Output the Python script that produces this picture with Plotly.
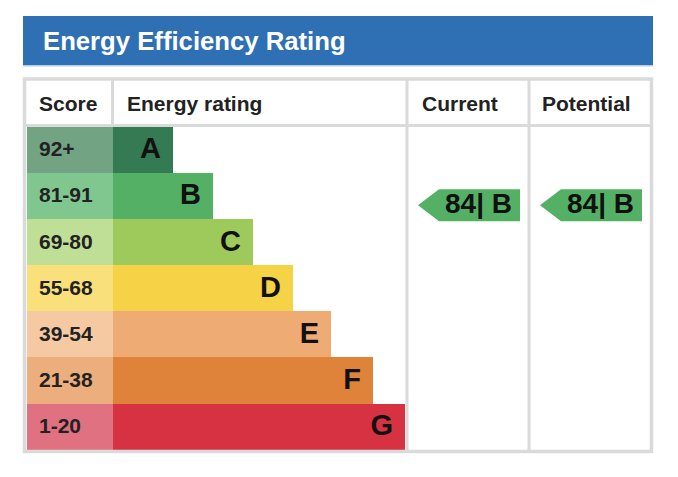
import plotly.graph_objects as go

# ---------------- data ----------------
title = "Energy Efficiency Rating"
headers = ["Score", "Energy rating", "Current", "Potential"]
bands = ["A", "B", "C", "D", "E", "F", "G"]
score_ranges = ["92+", "81-91", "69-80", "55-68", "39-54", "21-38", "1-20"]
bar_lengths = [60, 100, 140, 180, 218, 260, 292]
score_colors = ["#72a382", "#80c78f", "#bfdf97", "#f9e07a", "#f5c9a2", "#ebae7c", "#e07180"]
bar_colors = ["#347b54", "#53b065", "#9dca5b", "#f6d246", "#eeab73", "#df833b", "#d63242"]
current_score = 84
current_band = "B"
potential_score = 84
potential_band = "B"

# ---------------- layout constants ----------------
W, H = 678, 477
LEFT, RIGHT = 23, 653
TITLE_TOP, TITLE_BOT = 16, 65
TABLE_TOP, HEAD_BOT = 79, 126
ROW_TOP, ROW_BOT = 127, 450
ROW_H = (ROW_BOT - ROW_TOP) / len(bands)
SCORE_X0, BAR_X0 = 27, 113
COL_CUR, COL_POT, COL_END = 407, 529, 651
GRID = "#dadada"
FONT = "Liberation Sans, Arial, sans-serif"

centers = [ROW_TOP + ROW_H * (i + 0.5) for i in range(len(bands))]

fig = go.Figure()

# score cells
fig.add_trace(go.Bar(
    orientation="h", y=centers, x=[BAR_X0 - SCORE_X0] * len(bands), base=SCORE_X0,
    width=ROW_H + 0.6, marker=dict(color=score_colors, line=dict(width=0)),
    hoverinfo="skip", showlegend=False))
# rating bars
fig.add_trace(go.Bar(
    orientation="h", y=centers, x=bar_lengths, base=BAR_X0,
    width=ROW_H + 0.6, marker=dict(color=bar_colors, line=dict(width=0)),
    hoverinfo="skip", showlegend=False))

# score labels
fig.add_trace(go.Scatter(
    x=[39] * len(bands), y=[c + 1 for c in centers], mode="text",
    text=[f"<b>{s}</b>" for s in score_ranges],
    textposition="middle right", textfont=dict(family=FONT, size=21, color="#222222"),
    hoverinfo="skip", showlegend=False))
# band letters
fig.add_trace(go.Scatter(
    x=[BAR_X0 + l - 12 for l in bar_lengths], y=[c + 1 for c in centers], mode="text",
    text=[f"<b>{b}</b>" for b in bands], textposition="middle left",
    textfont=dict(family=FONT, size=29, color="#111111"),
    hoverinfo="skip", showlegend=False))


def arrow(score, band, col_x0, col_x1):
    i = bands.index(band)
    cy = centers[i] + 9
    h = 32
    x_right = col_x1 - 9
    x_rect = col_x0 + 32
    x_tip = col_x0 + 11
    xs = [x_tip, x_rect, x_right, x_right, x_rect, x_tip]
    ys = [cy, cy - h / 2, cy - h / 2, cy + h / 2, cy + h / 2, cy]
    fig.add_trace(go.Scatter(
        x=xs, y=ys, fill="toself", fillcolor=bar_colors[i], mode="lines",
        line=dict(width=0, color=bar_colors[i]), hoverinfo="skip", showlegend=False))
    fig.add_trace(go.Scatter(
        x=[x_right - 8], y=[cy + 1], mode="text",
        text=[f"<b>{score}| {band}</b>"], textposition="middle left",
        textfont=dict(family=FONT, size=28, color="#111111"),
        hoverinfo="skip", showlegend=False))


arrow(current_score, current_band, COL_CUR, COL_POT)
arrow(potential_score, potential_band, COL_POT, COL_END)

shapes = [
    # title bar
    dict(type="rect", x0=LEFT, x1=RIGHT, y0=TITLE_TOP, y1=TITLE_BOT,
         fillcolor="#2f70b5", line=dict(width=0), layer="below"),
    dict(type="rect", x0=LEFT, x1=RIGHT, y0=TITLE_BOT, y1=TITLE_BOT + 1.5,
         fillcolor="#b5cbe6", line=dict(width=0), layer="below"),
    # outer border
    dict(type="rect", x0=LEFT + 1.5, x1=RIGHT - 1.5, y0=TABLE_TOP, y1=ROW_BOT + 1.5,
         line=dict(color=GRID, width=3.5), layer="above"),
    # header bottom
    dict(type="line", x0=LEFT, x1=RIGHT, y0=HEAD_BOT - 0.5, y1=HEAD_BOT - 0.5,
         line=dict(color=GRID, width=3), layer="above"),
    # header divider score|rating
    dict(type="line", x0=BAR_X0 - 0.5, x1=BAR_X0 - 0.5, y0=TABLE_TOP, y1=HEAD_BOT,
         line=dict(color=GRID, width=3), layer="above"),
    # column dividers
    dict(type="line", x0=COL_CUR, x1=COL_CUR, y0=TABLE_TOP, y1=ROW_BOT + 2,
         line=dict(color=GRID, width=3), layer="above"),
    dict(type="line", x0=COL_POT, x1=COL_POT, y0=TABLE_TOP, y1=ROW_BOT + 2,
         line=dict(color=GRID, width=3), layer="above"),
]

annotations = [
    dict(x=41, y=(TITLE_TOP + TITLE_BOT) / 2, xref="x", yref="y", text=f"<b>{title}</b>",
         showarrow=False, xanchor="left", yanchor="middle",
         font=dict(family=FONT, size=25.7, color="white")),
]
head_x = [37, 125, 420, 540]
for hx, htxt in zip(head_x, headers):
    annotations.append(dict(
        x=hx, y=(TABLE_TOP + HEAD_BOT) / 2 + 1, xref="x", yref="y", text=f"<b>{htxt}</b>",
        showarrow=False, xanchor="left", yanchor="middle",
        font=dict(family=FONT, size=21, color="#222222")))

fig.update_layout(
    width=W, height=H, margin=dict(l=0, r=0, t=0, b=0),
    paper_bgcolor="white", plot_bgcolor="white",
    barmode="overlay", bargap=0,
    xaxis=dict(range=[0, W], visible=False, fixedrange=True),
    yaxis=dict(range=[H, 0], visible=False, fixedrange=True),
    shapes=shapes, annotations=annotations, showlegend=False,
)

fig.write_html("out.html", config={"displayModeBar": False, "staticPlot": True},
               post_script="document.body.style.margin='0';")
